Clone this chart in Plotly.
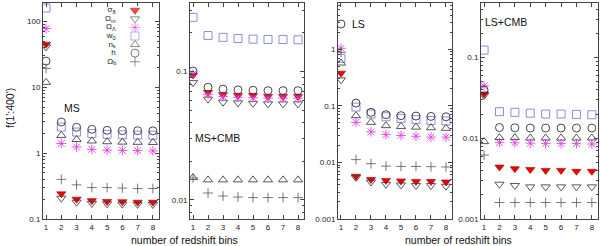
import plotly.graph_objects as go

bins = [1, 2, 3, 4, 5, 6, 7, 8]

# ---- MS ----
ms_sigma8 = [45, 0.241, 0.20, 0.19, 0.185, 0.183, 0.18, 0.18]
ms_omega_m = [41, 0.207, 0.18, 0.172, 0.17, 0.168, 0.167, 0.166]
ms_omega_l = [78, 1.40, 1.24, 1.14, 1.11, 1.10, 1.09, 1.08]
ms_w0 = [160, 2.49, 2.09, 1.98, 1.93, 1.90, 1.88, 1.87]
ms_ns = [11.9, 1.86, 1.61, 1.53, 1.49, 1.47, 1.46, 1.45]
ms_h = [25, 2.97, 2.47, 2.30, 2.22, 2.20, 2.19, 2.18]
ms_omega_b = [19.4, 0.40, 0.33, 0.30, 0.30, 0.295, 0.29, 0.29]

# ---- MS+CMB ----
mscmb_sigma8 = [0.094, 0.0686, 0.066, 0.065, 0.065, 0.064, 0.064, 0.064]
mscmb_omega_m = [0.082, 0.061, 0.0577, 0.057, 0.0565, 0.056, 0.056, 0.056]
mscmb_omega_l = [0.096, 0.066, 0.064, 0.063, 0.0625, 0.062, 0.062, 0.062]
mscmb_w0 = [0.265, 0.191, 0.185, 0.181, 0.179, 0.178, 0.178, 0.177]
mscmb_ns = [0.0149, 0.0143, 0.0143, 0.0143, 0.0143, 0.0143, 0.0143, 0.0143]
mscmb_h = [0.101, 0.0755, 0.073, 0.072, 0.0715, 0.071, 0.071, 0.071]
mscmb_omega_b = [0.0148, 0.0113, 0.0107, 0.0105, 0.0104, 0.0104, 0.0104, 0.0104]

# ---- LS ----
ls_sigma8 = [0.378, 0.0057, 0.0050, 0.0048, 0.0047, 0.0046, 0.0046, 0.0045]
ls_omega_m = [0.288, 0.0054, 0.0045, 0.0041, 0.0040, 0.0039, 0.0039, 0.0038]
ls_omega_l = [1.04, 0.051, 0.0347, 0.031, 0.030, 0.029, 0.028, 0.028]
ls_w0 = [0.69, 0.095, 0.072, 0.064, 0.060, 0.057, 0.055, 0.054]
ls_ns = [0.57, 0.067, 0.051, 0.0446, 0.043, 0.042, 0.041, 0.040]
ls_h = [2.79, 0.112, 0.0766, 0.0697, 0.067, 0.066, 0.065, 0.064]
ls_omega_b = [0.88, 0.0112, 0.0095, 0.0086, 0.0085, 0.0085, 0.0084, 0.0083]

# ---- LS+CMB ----
lscmb_sigma8 = [0.0355, 0.0044, 0.0042, 0.0041, 0.0040, 0.0040, 0.0039, 0.0039]
lscmb_omega_m = [0.034, 0.0027, 0.0026, 0.0025, 0.0025, 0.0025, 0.0025, 0.0025]
lscmb_omega_l = [0.0446, 0.0089, 0.0088, 0.0087, 0.0086, 0.0086, 0.0086, 0.0085]
lscmb_w0 = [0.124, 0.0214, 0.021, 0.0205, 0.020, 0.020, 0.0198, 0.0196]
lscmb_ns = [0.0091, 0.0102, 0.0102, 0.0101, 0.0101, 0.0101, 0.0101, 0.0101]
lscmb_h = [0.0398, 0.0136, 0.0135, 0.0134, 0.0134, 0.0134, 0.0134, 0.0134]
lscmb_omega_b = [0.0062, 0.0016, 0.0016, 0.0016, 0.0016, 0.0016, 0.0016, 0.0016]

param_labels = ["σ<sub>8</sub>", "Ω<sub>m</sub>", "Ω<sub>Λ</sub>", "w<sub>0</sub>",
                "n<sub>s</sub>", "h", "Ω<sub>b</sub>"]
panel_names = ["MS", "MS+CMB", "LS", "LS+CMB"]

panels = [
    [ms_sigma8, ms_omega_m, ms_omega_l, ms_w0, ms_ns, ms_h, ms_omega_b],
    [mscmb_sigma8, mscmb_omega_m, mscmb_omega_l, mscmb_w0, mscmb_ns, mscmb_h, mscmb_omega_b],
    [ls_sigma8, ls_omega_m, ls_omega_l, ls_w0, ls_ns, ls_h, ls_omega_b],
    [lscmb_sigma8, lscmb_omega_m, lscmb_omega_l, lscmb_w0, lscmb_ns, lscmb_h, lscmb_omega_b],
]

y_tickvals = [
    [0.1, 1, 10, 100],
    [0.01, 0.1],
    [0.001, 0.01, 0.1, 1],
    [0.001, 0.01, 0.1],
]
y_ticktext = [
    ["0.1", "1", "10", "100"],
    ["0.01", "0.1"],
    ["0.001", "0.01", "0.1", "1"],
    ["0.001", "0.01", "0.1"],
]
y_ranges = [[-1, 2.28], [-2.15, -0.465], [-3, 0.817], [-3, -0.323]]
x_domains = [[0.0, 0.209], [0.2649, 0.4703], [0.5315, 0.7369], [0.7892, 1.0]]

styles = [
    dict(symbol="triangle-down", color="#f00000", line=dict(color="#a00000", width=0.6), size=8),
    dict(symbol="triangle-down-open", color="#444444", line=dict(width=0.9), size=8),
    dict(symbol="asterisk-open", color="#dd44dd", line=dict(width=0.9), size=8),
    dict(symbol="square-open", color="#7f7fdf", line=dict(width=0.9), size=8),
    dict(symbol="triangle-up-open", color="#444444", line=dict(width=0.9), size=8),
    dict(symbol="circle-open", color="#333333", line=dict(width=0.9), size=8),
    dict(symbol="cross-thin-open", color="#555555", line=dict(width=0.8), size=7),
]

FONT = "Liberation Sans, Arial, sans-serif"
fig = go.Figure()

for p, series in enumerate(panels):
    ax = "" if p == 0 else str(p + 1)
    for s, vals in enumerate(series):
        st = styles[s]
        fig.add_trace(go.Scatter(
            x=bins, y=vals, mode="markers", showlegend=False,
            xaxis="x" + ax, yaxis="y" + ax,
            marker=dict(symbol=st["symbol"], color=st["color"], size=st["size"],
                        line=dict(color=st["line"].get("color", st["color"]),
                                  width=st["line"]["width"])),
        ))
    axis_common = dict(showline=True, linecolor="#444444", linewidth=1, mirror="allticks",
                       ticks="inside", tickcolor="#444444", showgrid=False, zeroline=False,
                       tickfont=dict(family=FONT, size=8, color="#222222"))
    fig.update_layout(**{
        "xaxis" + ax: dict(domain=x_domains[p], range=[0.8, 8.4], tickvals=bins,
                           ticklen=4, anchor="y" + ax, **axis_common),
        "yaxis" + ax: dict(domain=[0, 1], type="log", range=y_ranges[p],
                           tickvals=y_tickvals[p], ticktext=y_ticktext[p], ticklen=4,
                           anchor="x" + ax,
                           minor=dict(ticks="inside", ticklen=2, dtick="D1",
                                      tickcolor="#444444", showgrid=False),
                           **axis_common),
    })

# legend drawn inside panel 1 (text right-aligned, symbol at right)
nb = "\u00a0" * 6
fig.add_trace(go.Scatter(
    x=[0] * len(param_labels), y=list(range(len(param_labels))),
    mode="markers+text", text=[lab + nb for lab in param_labels],
    textposition="middle left", showlegend=False, cliponaxis=False,
    textfont=dict(family=FONT, size=8, color="#222222"),
    marker=dict(symbol=[st["symbol"] for st in styles],
                color=[st["color"] for st in styles], size=[st["size"] for st in styles],
                line=dict(color=[st["line"].get("color", st["color"]) for st in styles],
                          width=0.9)),
    xaxis="x5", yaxis="y5",
))
fig.update_layout(
    xaxis5=dict(domain=[(125 - 43) / 555, (145 - 43) / 555], range=[-1, 1], visible=False,
                anchor="y5"),
    yaxis5=dict(domain=[(219 - 66) / 216, (219 - 6) / 216], range=[6.5, -0.5], visible=False,
                anchor="x5"),
)

annotations = []
label_pos = [(62, 108), (193, 138), (350, 24), (483, 22)]
for name, (px, py) in zip(panel_names, label_pos):
    annotations.append(dict(text=name, xref="paper", yref="paper",
                            x=(px - 43) / 555, y=(219 - py) / 216,
                            xanchor="left", yanchor="middle", showarrow=False,
                            font=dict(family=FONT, size=10.5, color="#111111")))
for cx in (184, 458):
    annotations.append(dict(text="number of redshift bins", xref="paper", yref="paper",
                            x=(cx - 43) / 555, y=(219 - 240) / 216,
                            xanchor="center", yanchor="middle", showarrow=False,
                            font=dict(family=FONT, size=10.5, color="#111111")))
annotations.append(dict(text="f(1':400')", xref="paper", yref="paper",
                        x=(10 - 43) / 555, y=(219 - 108) / 216, textangle=-90,
                        xanchor="center", yanchor="middle", showarrow=False,
                        font=dict(family=FONT, size=10.5, color="#111111")))

fig.update_layout(
    width=600, height=246,
    margin=dict(l=43, r=2, t=3, b=27),
    paper_bgcolor="white", plot_bgcolor="white",
    annotations=annotations,
    showlegend=False,
)

fig.write_html("out.html",
               config={"displayModeBar": False},
               post_script="document.body.style.margin='0';document.body.style.padding='0';"
                           "document.documentElement.style.overflow='hidden';")
